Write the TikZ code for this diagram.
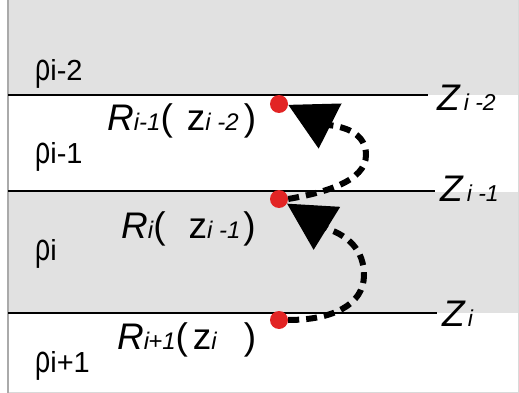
\documentclass[tikz,border=0pt]{standalone}
\usepackage{fontspec}
\setmainfont{Liberation Sans}
\usetikzlibrary{arrows.meta}

\definecolor{layergray}{RGB}{225,225,225}
\definecolor{framegray}{RGB}{170,170,170}
\definecolor{dotred}{RGB}{226,36,36}

% type sizes
\newcommand\bigfont{\fontsize{37}{37}\selectfont}
\newcommand\lsub[1]{{\fontsize{24}{24}\selectfont\itshape #1}}
\newcommand\zsub[1]{{\fontsize{23}{23}\selectfont\itshape #1}}
\newcommand\rsub[1]{{\fontsize{29}{29}\selectfont #1}}
\newcommand\rhosym{\scalebox{0.7}[1]{\fontsize{38}{38}\selectfont ρ}}

\begin{document}
\begin{tikzpicture}[x=1pt,y=-1pt,
  boundary/.style={line width=2.5pt},
  dot/.style={circle,fill=dotred,inner sep=0pt,minimum size=18pt},
  flow/.style={line width=6pt,dash pattern=on 11pt off 7pt,
               -{Triangle[length=47pt,width=49pt]}},
  lbl/.style={inner sep=0pt,anchor=base west,font=\bigfont},
]
\useasboundingbox (0,0) rectangle (519,393);

% layers (shaded / plain)
\fill[layergray] (8,0) rectangle (519,95);
\fill[layergray] (8,192) rectangle (519,313);

% frame
\draw[framegray!45,line width=1pt] (8,392) -- (518,392) -- (518,0);
\draw[framegray,line width=1.5pt] (8,0) -- (8,392.5);

% layer boundaries
\draw[boundary] (8,95) -- (428,95);
\draw[boundary] (8,191) -- (435,191);
\draw[boundary] (8,313) -- (437,313);

% depth labels
\node[lbl] (z1) at (437,111) {\textit{Z}\hspace{3pt}\zsub{i -2}};
\node[lbl] (z2) at (440,201) {\textit{Z}\hspace{3pt}\zsub{i -1}};
\node[lbl] (z3) at (442,326) {\textit{Z}\hspace{2pt}\zsub{i}};

% layer densities
\node[lbl] (p1) at (35,81)  {\rhosym\rsub{i-2}};
\node[lbl] (p2) at (35,163) {\rhosym\rsub{i-1}};
\node[lbl] (p3) at (35,260) {\rhosym\rsub{i}};
\node[lbl] (p4) at (35,372) {\rhosym\rsub{i+1}};

% reflection coefficients
\node[lbl] (r1) at (107,131) {\textit{R}\lsub{i-1}(\hspace{14pt}z\lsub{i -2}\hspace{5pt})};
\node[lbl] (r2) at (121,238) {\textit{R}\lsub{i}(\hspace{23pt}z\lsub{i -1}\hspace{3pt})};
\node[lbl] (r3) at (117,349) {\textit{R}\lsub{i{\kern-1pt}+1}(\hspace{5pt}z\lsub{i}\hspace{27pt})};

% interface points
\node[dot] (d1) at (279,104) {};
\node[dot] (d2) at (279,199) {};
\node[dot] (d3) at (279,320) {};

% recursion arrows
\draw[flow] (d3.east) .. controls (332,320) and (364,305) .. (364,275)
  .. controls (364,250) and (348,236) .. (328,229) -- (d2.-30);
\draw[flow] (d2.east) .. controls (322,193) and (366,182) .. (366,155)
  .. controls (366,135) and (348,127) .. (328,125) -- (d1.-5);
\end{tikzpicture}
\end{document}
